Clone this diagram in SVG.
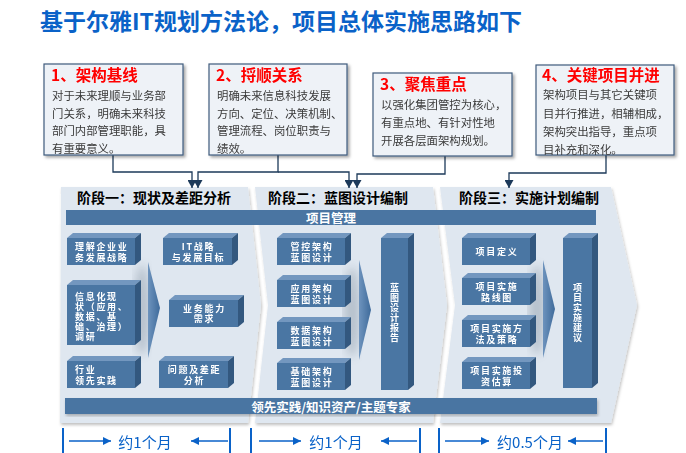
<svg xmlns="http://www.w3.org/2000/svg" width="686" height="453" viewBox="0 0 686 453">
<defs>
<style>
.t{font-family:"Noto Sans CJK SC","Noto Sans",sans-serif}
.title{font-size:23px;font-weight:bold;fill:#0a62c8}
.box{fill:#eef2f7;stroke:#3f5b7d;stroke-width:1.2}
.bt{font-size:15.5px;font-weight:bold;fill:#ff0000}
.bd{font-size:11.4px;fill:#3a3a3a}
.stage{fill:#dfe7f0}
.sl{font-size:14px;font-weight:bold;fill:#000}
.bar{fill:#4a75a2}
.bart{font-size:12.5px;font-weight:bold;fill:#fff}
.front{fill:#4a76a3}
.top{fill:#7397bf}
.side{fill:#33587f}
.wt{font-size:9px;font-weight:bold;fill:#fff;letter-spacing:1.7px}
.vt{font-size:9px;font-weight:bold;fill:#fff;writing-mode:tb;letter-spacing:1px}
.tri{fill:url(#tg)}
.conn{fill:none;stroke:#1d3a5a;stroke-width:1.3}
.dur{stroke:#0a62c8;stroke-width:2}
.dura{stroke:#0a62c8;stroke-width:1.6}
.durt{font-size:15px;fill:#0a62c8}
</style>
<linearGradient id="tg" x1="0" y1="0" x2="1" y2="0"><stop offset="0" stop-color="#6d93bd"/><stop offset="1" stop-color="#3f6b9b"/></linearGradient>
<marker id="ah" viewBox="0 0 8 9" refX="8" refY="4.5" markerWidth="8" markerHeight="9" markerUnits="userSpaceOnUse" orient="auto"><path d="M0,0 L8,4.5 L0,9 Z" fill="#1d3a5a"/></marker>
<marker id="bh" viewBox="0 0 8 8" refX="8" refY="4" markerWidth="8" markerHeight="8" markerUnits="userSpaceOnUse" orient="auto"><path d="M0,0 L8,4 L0,8 Z" fill="#0a62c8"/></marker>
<filter id="sh" x="-10%" y="-10%" width="125%" height="125%"><feDropShadow dx="2" dy="2" stdDeviation="1.5" flood-color="#000" flood-opacity="0.35"/></filter>
<filter id="sh2" x="-10%" y="-10%" width="125%" height="125%"><feDropShadow dx="1" dy="2" stdDeviation="1.5" flood-color="#000" flood-opacity="0.25"/></filter>
<filter id="blur"><feGaussianBlur stdDeviation="5"/></filter>
</defs>
<rect width="686" height="453" fill="#fff"/>
<text class="t title" x="40" y="30">基于尔雅IT规划方法论，项目总体实施思路如下</text>

<g id="stages">
<path class="stage" filter="url(#sh2)" d="M61,187 L248,187 L261,305 L248,423 L60,423 Z"/>
<path class="stage" filter="url(#sh2)" d="M255,187 L433,187 L447,305 L433,423 L255,423 L268,305 Z"/>
<path class="stage" filter="url(#sh2)" d="M440,187 L611,187 L637,305 L611,423 L440,423 L455,305 Z"/>
<text class="t sl" x="77" y="203">阶段一：现状及差距分析</text>
<text class="t sl" x="268" y="203">阶段二：蓝图设计编制</text>
<text class="t sl" x="459" y="203">阶段三：实施计划编制</text>
</g>

<g id="bar-top">
<rect class="bar" x="66" y="210" width="530" height="15"/>
<text class="t bart" x="331" y="217.5" text-anchor="middle" dominant-baseline="central">项目管理</text>
</g>
<g id="bar-bottom">
<rect class="bar" x="65" y="398" width="532" height="16" filter="url(#sh2)"/>
<text class="t bart" x="331" y="406" text-anchor="middle" dominant-baseline="central">领先实践/知识资产/主题专家</text>
</g>

<g id="glows" opacity="0.35">
<ellipse cx="142" cy="310" rx="8" ry="45" fill="#6a7a8a" filter="url(#blur)"/>
<ellipse cx="352" cy="312" rx="8" ry="45" fill="#6a7a8a" filter="url(#blur)"/>
<ellipse cx="537" cy="310" rx="8" ry="45" fill="#6a7a8a" filter="url(#blur)"/>
</g>

<g id="s1-b1"><path class="top" d="M67,238 L73,233 L141,233 L135,238Z"/><path class="side" d="M135,238 L141,233 L141,260 L135,265Z"/><rect class="front" x="67" y="238" width="68" height="27"/>
<text class="t wt" x="75" y="246.5" dominant-baseline="central">理解企业业</text><text class="t wt" x="75" y="257" dominant-baseline="central">务发展战略</text></g>
<g id="s1-b2"><path class="top" d="M163,238 L169,233 L238,233 L232,238Z"/><path class="side" d="M232,238 L238,233 L238,260 L232,265Z"/><rect class="front" x="163" y="238" width="69" height="27"/>
<text class="t wt" x="198.5" y="246.5" text-anchor="middle" dominant-baseline="central">IT战略</text><text class="t wt" x="198.5" y="257" text-anchor="middle" dominant-baseline="central">与发展目标</text></g>
<g id="s1-b3"><path class="top" d="M67,285 L73,280 L141,280 L135,285Z"/><path class="side" d="M135,285 L141,280 L141,340 L135,345Z"/><rect class="front" x="67" y="285" width="68" height="60"/>
<text class="t wt" x="75" y="296" dominant-baseline="central">信息化现</text><text class="t wt" x="75" y="306" dominant-baseline="central">状（应用、</text><text class="t wt" x="75" y="316" dominant-baseline="central">数据、基</text><text class="t wt" x="75" y="326" dominant-baseline="central">础、治理）</text><text class="t wt" x="75" y="336" dominant-baseline="central">调研</text></g>
<g id="s1-b4"><path class="top" d="M169,300 L175,295 L244,295 L238,300Z"/><path class="side" d="M238,300 L244,295 L244,322 L238,327Z"/><rect class="front" x="169" y="300" width="69" height="27"/>
<text class="t wt" x="204.5" y="308" text-anchor="middle" dominant-baseline="central">业务能力</text><text class="t wt" x="204.5" y="318.5" text-anchor="middle" dominant-baseline="central">需求</text></g>
<g id="s1-b5"><path class="top" d="M67,361 L73,356 L141,356 L135,361Z"/><path class="side" d="M135,361 L141,356 L141,383 L135,388Z"/><rect class="front" x="67" y="361" width="68" height="27"/>
<text class="t wt" x="75" y="369.5" dominant-baseline="central">行业</text><text class="t wt" x="75" y="380" dominant-baseline="central">领先实践</text></g>
<g id="s1-b6"><path class="top" d="M159,361 L165,356 L234,356 L228,361Z"/><path class="side" d="M228,361 L234,356 L234,383 L228,388Z"/><rect class="front" x="159" y="361" width="69" height="27"/>
<text class="t wt" x="194.5" y="369.5" text-anchor="middle" dominant-baseline="central">问题及差距</text><text class="t wt" x="194.5" y="380" text-anchor="middle" dominant-baseline="central">分析</text></g>
<path id="s1-tri" class="tri" d="M148,262 L160,308 L148,358 Z"/>

<g id="s2-b1"><path class="top" d="M277,238 L283,233 L351,233 L345,238Z"/><path class="side" d="M345,238 L351,233 L351,260 L345,265Z"/><rect class="front" x="277" y="238" width="68" height="27"/>
<text class="t wt" x="312" y="246.5" text-anchor="middle" dominant-baseline="central">管控架构</text><text class="t wt" x="312" y="257" text-anchor="middle" dominant-baseline="central">蓝图设计</text></g>
<g id="s2-b2"><path class="top" d="M277,280 L283,275 L351,275 L345,280Z"/><path class="side" d="M345,280 L351,275 L351,302 L345,307Z"/><rect class="front" x="277" y="280" width="68" height="27"/>
<text class="t wt" x="312" y="288.5" text-anchor="middle" dominant-baseline="central">应用架构</text><text class="t wt" x="312" y="299" text-anchor="middle" dominant-baseline="central">蓝图设计</text></g>
<g id="s2-b3"><path class="top" d="M277,322 L283,317 L351,317 L345,322Z"/><path class="side" d="M345,322 L351,317 L351,344 L345,349Z"/><rect class="front" x="277" y="322" width="68" height="27"/>
<text class="t wt" x="312" y="330.5" text-anchor="middle" dominant-baseline="central">数据架构</text><text class="t wt" x="312" y="341" text-anchor="middle" dominant-baseline="central">蓝图设计</text></g>
<g id="s2-b4"><path class="top" d="M277,363 L283,358 L351,358 L345,363Z"/><path class="side" d="M345,363 L351,358 L351,385 L345,390Z"/><rect class="front" x="277" y="363" width="68" height="27"/>
<text class="t wt" x="312" y="371.5" text-anchor="middle" dominant-baseline="central">基础架构</text><text class="t wt" x="312" y="382" text-anchor="middle" dominant-baseline="central">蓝图设计</text></g>
<path id="s2-tri" class="tri" d="M359,260 L371,310 L359,360 Z"/>
<g id="s2-report"><path class="top" d="M381,238 L387,233 L414,233 L408,238Z"/><path class="side" d="M408,238 L414,233 L414,385 L408,390Z"/><rect class="front" x="381" y="238" width="27" height="152"/>
<text class="t vt" x="394.5" y="283.5">蓝图设计报告</text></g>

<g id="s3-b1"><path class="top" d="M462,238 L468,233 L536,233 L530,238Z"/><path class="side" d="M530,238 L536,233 L536,260 L530,265Z"/><rect class="front" x="462" y="238" width="68" height="27"/>
<text class="t wt" x="497" y="251.5" text-anchor="middle" dominant-baseline="central">项目定义</text></g>
<g id="s3-b2"><path class="top" d="M462,278 L468,273 L536,273 L530,278Z"/><path class="side" d="M530,278 L536,273 L536,300 L530,305Z"/><rect class="front" x="462" y="278" width="68" height="27"/>
<text class="t wt" x="497" y="286.5" text-anchor="middle" dominant-baseline="central">项目实施</text><text class="t wt" x="497" y="297" text-anchor="middle" dominant-baseline="central">路线图</text></g>
<g id="s3-b3"><path class="top" d="M462,320 L468,315 L536,315 L530,320Z"/><path class="side" d="M530,320 L536,315 L536,342 L530,347Z"/><rect class="front" x="462" y="320" width="68" height="27"/>
<text class="t wt" x="497" y="328.5" text-anchor="middle" dominant-baseline="central">项目实施方</text><text class="t wt" x="497" y="339" text-anchor="middle" dominant-baseline="central">法及策略</text></g>
<g id="s3-b4"><path class="top" d="M462,362 L468,357 L536,357 L530,362Z"/><path class="side" d="M530,362 L536,357 L536,384 L530,389Z"/><rect class="front" x="462" y="362" width="68" height="27"/>
<text class="t wt" x="497" y="370.5" text-anchor="middle" dominant-baseline="central">项目实施投</text><text class="t wt" x="497" y="381" text-anchor="middle" dominant-baseline="central">资估算</text></g>
<path id="s3-tri" class="tri" d="M543,260 L555,309 L543,358 Z"/>
<g id="s3-advice"><path class="top" d="M563,238 L569,233 L598,233 L592,238Z"/><path class="side" d="M592,238 L598,233 L598,383 L592,388Z"/><rect class="front" x="563" y="238" width="29" height="150"/>
<text class="t vt" x="577.5" y="283.5">项目实施建议</text></g>

<g id="connectors">
<path class="conn" marker-end="url(#ah)" d="M113,155 V172 H192 V188"/>
<path class="conn" marker-end="url(#ah)" d="M278,155 V172 H198 V188"/>
<path class="conn" marker-end="url(#ah)" d="M278,172 H349 V188"/>
<path class="conn" marker-end="url(#ah)" d="M445,156 V174 H357 V188"/>
<path class="conn" marker-end="url(#ah)" d="M606,155 V173 H509 V188"/>
</g>

<g id="box1">
<rect class="box" filter="url(#sh)" x="44" y="64" width="139" height="91"/>
<text class="t bt" x="51" y="81">1、架构基线</text>
<text class="t bd"><tspan x="52" y="100">对于未来理顺与业务部</tspan><tspan x="52" y="117.5">门关系，明确未来科技</tspan><tspan x="52" y="135">部门内部管理职能，具</tspan><tspan x="52" y="153">有重要意义。</tspan></text>
</g>
<g id="box2">
<rect class="box" filter="url(#sh)" x="209" y="64" width="138" height="91"/>
<text class="t bt" x="216" y="81">2、捋顺关系</text>
<text class="t bd"><tspan x="217" y="100">明确未来信息科技发展</tspan><tspan x="217" y="117.5">方向、定位、决策机制、</tspan><tspan x="217" y="135">管理流程、岗位职责与</tspan><tspan x="217" y="153">绩效。</tspan></text>
</g>
<g id="box3">
<rect class="box" filter="url(#sh)" x="373" y="73" width="139" height="83"/>
<text class="t bt" x="380" y="90">3、聚焦重点</text>
<text class="t bd"><tspan x="381" y="109">以强化集团管控为核心，</tspan><tspan x="381" y="127">有重点地、有针对性地</tspan><tspan x="381" y="144.5">开展各层面架构规划。</tspan></text>
</g>
<g id="box4">
<rect class="box" filter="url(#sh)" x="536" y="65" width="138" height="90"/>
<text class="t bt" x="542" y="81">4、关键项目并进</text>
<text class="t bd"><tspan x="543" y="99">架构项目与其它关键项</tspan><tspan x="543" y="117.5">目并行推进，相辅相成，</tspan><tspan x="543" y="136">架构突出指导，重点项</tspan><tspan x="543" y="153.5">目补充和深化。</tspan></text>
</g>

<g id="durations">
<line class="dur" x1="63" y1="428" x2="63" y2="453"/><line class="dur" x1="230" y1="428" x2="230" y2="453"/>
<line class="dura" x1="69" y1="441" x2="111" y2="441" marker-end="url(#bh)"/><line class="dura" x1="228" y1="441" x2="191" y2="441" marker-end="url(#bh)"/>
<text class="t durt" x="145" y="441" text-anchor="middle" dominant-baseline="central">约1个月</text>
<line class="dur" x1="251" y1="428" x2="251" y2="453"/><line class="dur" x1="420" y1="428" x2="420" y2="453"/>
<line class="dura" x1="259" y1="441" x2="301" y2="441" marker-end="url(#bh)"/><line class="dura" x1="417" y1="441" x2="381" y2="441" marker-end="url(#bh)"/>
<text class="t durt" x="336" y="441" text-anchor="middle" dominant-baseline="central">约1个月</text>
<line class="dur" x1="439" y1="428" x2="439" y2="453"/><line class="dur" x1="606" y1="428" x2="606" y2="453"/>
<line class="dura" x1="445" y1="441" x2="489" y2="441" marker-end="url(#bh)"/><line class="dura" x1="603" y1="441" x2="568" y2="441" marker-end="url(#bh)"/>
<text class="t durt" x="530" y="441" text-anchor="middle" dominant-baseline="central">约0.5个月</text>
</g>
</svg>
